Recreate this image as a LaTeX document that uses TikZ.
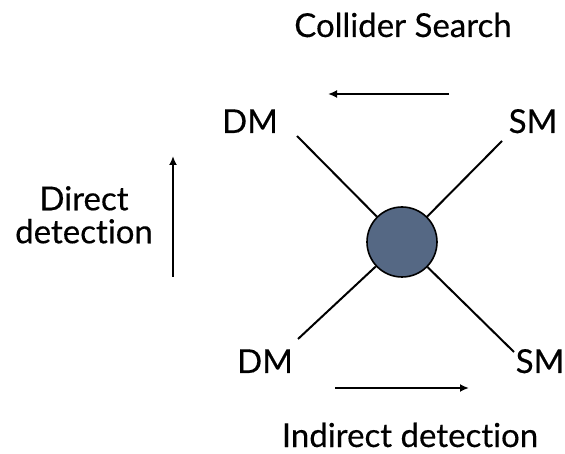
\documentclass[tikz,border=0pt]{standalone}
\usepackage{fontspec}
\setmainfont{Lato}[Ligatures=NoCommon, FakeBold=0.35]
\usetikzlibrary{arrows.meta}
\definecolor{blob}{HTML}{556884}
\tikzset{
  lbl/.style={font=\fontsize{33}{33}\selectfont, inner sep=0pt, anchor=base},
  leg/.style={line width=2pt, black},
  flow/.style={line width=2.2pt, -{Latex[length=9pt,width=8pt]}},
}
\begin{document}
\begin{tikzpicture}[x=1pt,y=-1pt]
\useasboundingbox (0,0) rectangle (565,454);
\node[lbl] (coll) at (403,37) {Collider Search};
\node[lbl] (dmt) at (250,133) {DM};
\node[lbl] (smt) at (533,133) {SM};
\node[lbl] (dmb) at (265,373) {DM};
\node[lbl] (smb) at (540,373) {SM};
\node[lbl] (ind) at (410,447) {Indirect detection};
\node[lbl, align=center, anchor=north] (dir) at (84,186) {Direct\\detection};
\node[circle, draw=black, line width=1.6pt, fill=blob, minimum size=70pt, inner sep=0pt] (v) at (402,242) {};
\coordinate (a1) at (297,136);
\coordinate (a2) at (502,141);
\coordinate (a3) at (298,339);
\coordinate (a4) at (514,352);
\draw[leg] (a1) -- (v);
\draw[leg] (a2) -- (v);
\draw[leg] (a3) -- (v);
\draw[leg] (a4) -- (v);
\coordinate (t1) at (449,94); \coordinate (t2) at (328,94);
\coordinate (b1) at (335,388); \coordinate (b2) at (469,388);
\coordinate (d1) at (173,277); \coordinate (d2) at (173,156);
\draw[flow] (t1) -- (t2);
\draw[flow] (b1) -- (b2);
\draw[flow] (d1) -- (d2);
\end{tikzpicture}
\end{document}
